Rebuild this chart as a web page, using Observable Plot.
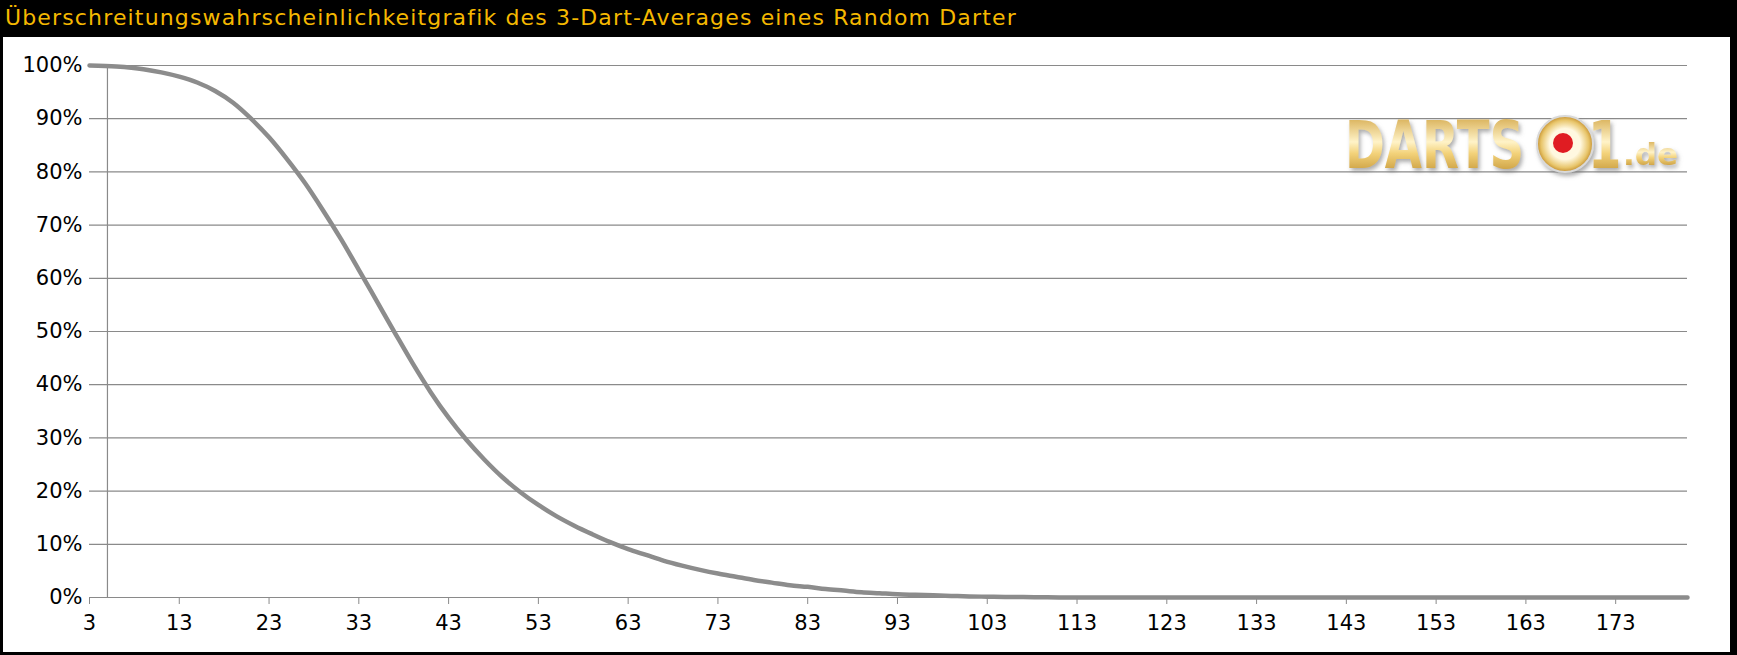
<!DOCTYPE html>
<html>
<head>
<meta charset="utf-8">
<script src="https://cdn.jsdelivr.net/npm/d3@7"></script>
<script src="https://cdn.jsdelivr.net/npm/@observablehq/plot@0.6"></script>
<style>
  html, body { margin: 0; padding: 0; }
  body { width: 1737px; height: 655px; background: #000; position: relative; overflow: hidden; font-family: "DejaVu Sans", sans-serif; }
  #title { position: absolute; left: 5px; top: 7px; line-height: 22px; font-size: 22px; letter-spacing: 1.15px; color: #f5b800; white-space: nowrap; }
  #panel { position: absolute; left: 3px; top: 37px; width: 1727px; height: 615px; background: #fff; }
  #panel svg { display: block; }
  #logo { position: absolute; left: 1335px; top: 104px; }
</style>
</head>
<body>
<div id="title">Überschreitungswahrscheinlichkeitgrafik des 3-Dart-Averages eines Random Darter</div>
<div id="panel"></div>
<svg id="logo" width="360" height="80" viewBox="0 0 360 80">
  <defs>
    <linearGradient id="gold" x1="0" y1="0" x2="0" y2="1">
      <stop offset="0" stop-color="#c9952a"/>
      <stop offset="0.45" stop-color="#fff3c8"/>
      <stop offset="0.6" stop-color="#f3d27a"/>
      <stop offset="1" stop-color="#b07d1a"/>
    </linearGradient>
    <radialGradient id="ring" cx="0.5" cy="0.5" r="0.5">
      <stop offset="0.55" stop-color="#fff8e0"/>
      <stop offset="0.85" stop-color="#e8c56a"/>
      <stop offset="1" stop-color="#c49030"/>
    </radialGradient>
    <filter id="sh" x="-10%" y="-20%" width="120%" height="150%">
      <feDropShadow dx="2" dy="3" stdDeviation="2" flood-color="#777" flood-opacity="0.6"/>
    </filter>
  </defs>
  <g filter="url(#sh)">
    <g transform="translate(10,64) scale(1,1.37)">
      <text x="0" y="0" font-family="DejaVu Sans" font-weight="bold" font-size="48" fill="url(#gold)">DARTS</text>
    </g>
    <circle cx="230" cy="40" r="28" fill="url(#ring)" stroke="#d9d9d9" stroke-width="2"/>
    <circle cx="228" cy="39" r="10" fill="#e01b24"/>
    <g transform="translate(253,64) scale(1,1.37)">
      <text x="0" y="0" font-family="DejaVu Sans" font-weight="bold" font-size="48" fill="url(#gold)">1</text>
    </g>
    <text x="288" y="61" font-family="DejaVu Sans" font-weight="bold" font-size="31" fill="url(#gold)">.de</text>
  </g>
</svg>
<script>
// 3-dart average (category values)
const averages = [3, 6, 9, 11, 13, 15, 17, 19, 21, 23, 25, 27, 29, 31, 33, 35, 37, 39, 41, 43, 45, 47, 49, 51, 53, 55, 57, 59, 61, 63, 65, 67, 69, 71, 73, 75, 77, 79, 81, 83, 85, 87, 89, 91, 93, 95, 97, 99, 101, 103, 105, 107, 109, 111, 113, 181];
// probability of exceeding the average (fraction)
const exceedProb = [1.000, 0.998, 0.993, 0.987, 0.979, 0.968, 0.952, 0.930, 0.900, 0.865, 0.824, 0.779, 0.728, 0.674, 0.616, 0.557, 0.498, 0.440, 0.386, 0.338, 0.296, 0.259, 0.226, 0.198, 0.174, 0.153, 0.135, 0.119, 0.104, 0.091, 0.080, 0.069, 0.060, 0.052, 0.045, 0.039, 0.033, 0.028, 0.023, 0.020, 0.016, 0.013, 0.010, 0.008, 0.006, 0.005, 0.004, 0.003, 0.002, 0.0015, 0.001, 0.0008, 0.0005, 0.0002, 0, 0];
const xTicks = [3, 13, 23, 33, 43, 53, 63, 73, 83, 93, 103, 113, 123, 133, 143, 153, 163, 173];
const yTicks = [0, 0.1, 0.2, 0.3, 0.4, 0.5, 0.6, 0.7, 0.8, 0.9, 1.0];
const xDomain = [3, 181];
const yAxisCrossing = 5;

const data = averages.map((a, i) => ({avg: a, p: exceedProb[i]}));
const grid = "#8a8a8a";

const chart = Plot.plot({
  width: 1727,
  height: 615,
  marginLeft: 86,
  marginRight: 43,
  marginTop: 28,
  marginBottom: 55,
  style: {fontFamily: "DejaVu Sans", fontSize: "21px", color: "#000", background: "#fff"},
  x: {domain: xDomain, label: null},
  y: {domain: [0, 1], label: null},
  marks: [
    Plot.ruleY(yTicks, {stroke: grid, strokeWidth: 1.2}),
    Plot.ruleX([yAxisCrossing], {y1: 0, y2: 1, stroke: grid, strokeWidth: 1.2}),
    Plot.axisY(yTicks, {tickSize: 0, tickPadding: 7, tickFormat: d => Math.round(d * 100) + "%", label: null, fill: "#000"}),
    Plot.axisX(xTicks, {tickSize: 7, tickPadding: 11, stroke: grid, fill: "#000", label: null}),
    Plot.line(data, {x: "avg", y: "p", stroke: "#8c8c8c", strokeWidth: 4.5, curve: "monotone-x"})
  ]
});
document.getElementById("panel").appendChild(chart);
</script>
</body>
</html>
